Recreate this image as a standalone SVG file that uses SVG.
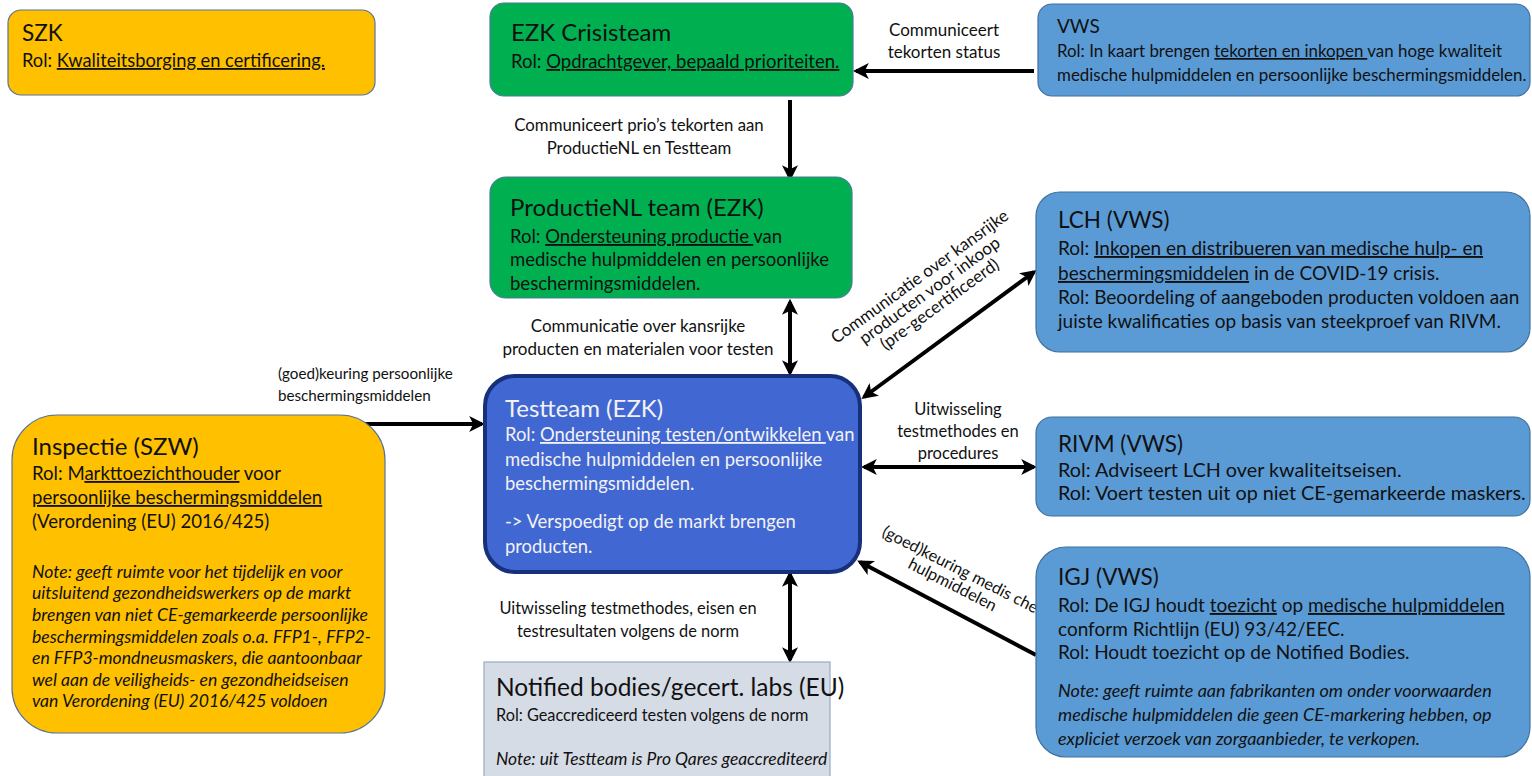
<svg xmlns="http://www.w3.org/2000/svg" width="1532" height="776" viewBox="0 0 1532 776">
<style>
text{font-family:Lato,"Liberation Sans",sans-serif;fill:#111;}
.yel{fill:#FFC000;stroke:#5A7394;stroke-width:1.2;}
.grn{fill:#00B050;stroke:#4A7A9A;stroke-width:1.2;}
.blu{fill:#5B9BD5;stroke:#41719C;stroke-width:1.2;}
.tt{fill:#4167D3;stroke:#16307A;stroke-width:4;}
.nb{fill:#D6DCE5;stroke:#9AAAC0;stroke-width:1.2;}
.h{font-size:24px;}
.h2{font-size:22.5px;}
.b{font-size:18.5px;}
.it{font-style:italic;}
.u{text-decoration:underline;}
.w{fill:#F2F2F2;}
.lab{font-size:17px;text-anchor:middle;}
.con{stroke:#000;stroke-width:4;fill:none;}
#szk .b{font-size:18.3px;}
#vws .b{font-size:16.9px;}
#testteam .b{font-size:18.4px;}
#inspectie .b{font-size:18.6px;}
#inspectie .it{font-size:17.6px;}
#notified-bodies .b{font-size:16.3px;}
#notified-bodies .it{font-size:17.4px;}
#lch .b{font-size:19px;}
#rivm .b{font-size:19.8px;}
#igj .b{font-size:19px;}
#igj .it{font-size:18px;}
</style>
<defs>
<marker id="ah" viewBox="0 0 10 10" refX="8" refY="5" markerWidth="4" markerHeight="4" orient="auto-start-reverse" markerUnits="strokeWidth">
<path d="M0,0 L10,5 L0,10 L2.5,5 Z" fill="#000"/>
</marker>
</defs>

<g id="connectors">
<line class="con" x1="1034" y1="71" x2="856" y2="71" marker-end="url(#ah)"/>
<line class="con" x1="790" y1="100" x2="790" y2="178" marker-end="url(#ah)"/>
<line class="con" x1="790" y1="302" x2="790" y2="373" marker-start="url(#ah)" marker-end="url(#ah)"/>
<line class="con" x1="790" y1="574" x2="790" y2="660" marker-start="url(#ah)" marker-end="url(#ah)"/>
<line class="con" x1="355" y1="424" x2="482" y2="424" marker-end="url(#ah)"/>
<line class="con" x1="1034" y1="272" x2="864" y2="397" marker-start="url(#ah)" marker-end="url(#ah)"/>
<line class="con" x1="864" y1="467" x2="1034" y2="467" marker-start="url(#ah)" marker-end="url(#ah)"/>
<line class="con" x1="1036" y1="655" x2="860" y2="562" marker-end="url(#ah)"/>
<text class="lab" x="944" y="36">Communiceert</text>
<text class="lab" x="944" y="58">tekorten status</text>
<text class="lab" x="639" y="131" style="font-size:16.8px">Communiceert prio’s tekorten aan</text>
<text class="lab" x="639" y="154" style="font-size:16.8px">ProductieNL en Testteam</text>
<text class="lab" x="638" y="332">Communicatie over kansrijke</text>
<text class="lab" x="638" y="355">producten en materialen voor testen</text>
<text class="lab" x="628" y="614" style="font-size:16.4px">Uitwisseling testmethodes, eisen en</text>
<text class="lab" x="628" y="637" style="font-size:16.4px">testresultaten volgens de norm</text>
<text class="lab" x="278" y="379" style="text-anchor:start;font-size:15.2px">(goed)keuring persoonlijke</text>
<text class="lab" x="278" y="401" style="text-anchor:start;font-size:15.2px">beschermingsmiddelen</text>
<text class="lab" x="958" y="415" style="font-size:16.5px">Uitwisseling</text>
<text class="lab" x="958" y="437" style="font-size:16.5px">testmethodes en</text>
<text class="lab" x="958" y="459" style="font-size:16.5px">procedures</text>
<g transform="translate(930,291) rotate(-36)">
<text class="lab" x="0" y="-12">Communicatie over kansrijke</text>
<text class="lab" x="0" y="5">producten voor inkoop</text>
<text class="lab" x="0" y="22">(pre-gecertificeerd)</text>
</g>
<g transform="translate(956,578) rotate(27)">
<text class="lab" x="0" y="-4" style="font-size:16.3px">(goed)keuring medis che</text>
<text class="lab" x="0" y="13" style="font-size:16.3px">hulpmiddelen</text>
</g>
</g>

<g id="szk">
<rect class="yel" x="8" y="10" width="367" height="85" rx="13"/>
<text class="h2" x="22" y="41">SZK</text>
<text class="b" x="22" y="67">Rol: <tspan class="u">Kwaliteitsborging en certificering.</tspan></text>
</g>

<g id="ezk-crisisteam">
<rect class="grn" x="490" y="3" width="363" height="93" rx="14"/>
<text class="h" x="511" y="41">EZK Crisisteam</text>
<text class="b" x="511" y="68">Rol: <tspan class="u">Opdrachtgever, bepaald prioriteiten.</tspan></text>
</g>

<g id="vws">
<rect class="blu" x="1038" y="4" width="492" height="92" rx="14"/>
<text class="h2" x="1057" y="33" style="font-size:19px">VWS</text>
<text class="b" x="1057" y="57">Rol: In kaart brengen <tspan class="u">tekorten en inkopen </tspan>van hoge kwaliteit</text>
<text class="b" x="1057" y="81">medische hulpmiddelen en persoonlijke beschermingsmiddelen.</text>
</g>

<g id="productienl">
<rect class="grn" x="490" y="177" width="362" height="121" rx="16"/>
<text class="h" x="510" y="216">ProductieNL team (EZK)</text>
<text class="b" x="510" y="243">Rol: <tspan class="u">Ondersteuning productie </tspan>van</text>
<text class="b" x="510" y="266">medische hulpmiddelen en persoonlijke</text>
<text class="b" x="510" y="290">beschermingsmiddelen.</text>
</g>

<g id="testteam">
<rect class="tt" x="485" y="376" width="375" height="196" rx="30"/>
<text class="h w" x="505" y="417">Testteam (EZK)</text>
<text class="b w" x="505" y="441">Rol: <tspan class="u">Ondersteuning testen/ontwikkelen </tspan>van</text>
<text class="b w" x="505" y="466">medische hulpmiddelen en persoonlijke</text>
<text class="b w" x="505" y="490">beschermingsmiddelen.</text>
<text class="b w" x="505" y="528">-&gt; Verspoedigt op de markt brengen</text>
<text class="b w" x="505" y="553">producten.</text>
</g>

<g id="inspectie">
<rect class="yel" x="12" y="415" width="373" height="318" rx="45"/>
<text class="h" x="32" y="455">Inspectie (SZW)</text>
<text class="b" x="32" y="480">Rol: M<tspan class="u">arkttoezichthouder</tspan> voor</text>
<text class="b u" x="32" y="504">persoonlijke beschermingsmiddelen</text>
<text class="b" x="32" y="528">(Verordening (EU) 2016/425)</text>
<text class="it" x="32" y="578">Note: geeft ruimte voor het tijdelijk en voor</text>
<text class="it" x="32" y="599">uitsluitend gezondheidswerkers op de markt</text>
<text class="it" x="32" y="621">brengen van niet CE-gemarkeerde persoonlijke</text>
<text class="it" x="32" y="643">beschermingsmiddelen zoals o.a. FFP1-, FFP2-</text>
<text class="it" x="32" y="664">en FFP3-mondneusmaskers, die aantoonbaar</text>
<text class="it" x="32" y="686">wel aan de veiligheids- en gezondheidseisen</text>
<text class="it" x="32" y="707">van Verordening (EU) 2016/425 voldoen</text>
</g>

<g id="notified-bodies">
<rect class="nb" x="484" y="662" width="346" height="120"/>
<text class="h" x="496" y="696" style="font-size:24.5px">Notified bodies/gecert. labs (EU)</text>
<text class="b" x="496" y="721">Rol: Geaccrediceerd testen volgens de norm</text>
<text class="it" x="496" y="765">Note: uit Testteam is Pro Qares geaccrediteerd</text>
</g>

<g id="lch">
<rect class="blu" x="1036" y="192" width="494" height="160" rx="24"/>
<text class="h2" x="1058" y="228">LCH (VWS)</text>
<text class="b" x="1058" y="255">Rol: <tspan class="u">Inkopen en distribueren van medische hulp- en </tspan></text>
<text class="b" x="1058" y="280"><tspan class="u">beschermingsmiddelen</tspan> in de COVID-19 crisis.</text>
<text class="b" x="1058" y="304">Rol: Beoordeling of aangeboden producten voldoen aan</text>
<text class="b" x="1058" y="328">juiste kwalificaties op basis van steekproef van RIVM.</text>
</g>

<g id="rivm">
<rect class="blu" x="1036" y="417" width="494" height="99" rx="16"/>
<text class="h2" x="1058" y="452">RIVM (VWS)</text>
<text class="b" x="1058" y="477">Rol: Adviseert LCH over kwaliteitseisen.</text>
<text class="b" x="1058" y="500">Rol: Voert testen uit op niet CE-gemarkeerde maskers.</text>
</g>

<g id="igj">
<rect class="blu" x="1036" y="547" width="494" height="210" rx="30"/>
<text class="h2" x="1058" y="585">IGJ (VWS)</text>
<text class="b" x="1058" y="612">Rol: De IGJ houdt <tspan class="u">toezicht</tspan> op <tspan class="u">medische hulpmiddelen </tspan></text>
<text class="b" x="1058" y="636">conform Richtlijn (EU) 93/42/EEC.</text>
<text class="b" x="1058" y="659">Rol: Houdt toezicht op de Notified Bodies.</text>
<text class="it" x="1058" y="697">Note: geeft ruimte aan fabrikanten om onder voorwaarden</text>
<text class="it" x="1058" y="721">medische hulpmiddelen die geen CE-markering hebben, op</text>
<text class="it" x="1058" y="745">expliciet verzoek van zorgaanbieder, te verkopen.</text>
</g>
</svg>
